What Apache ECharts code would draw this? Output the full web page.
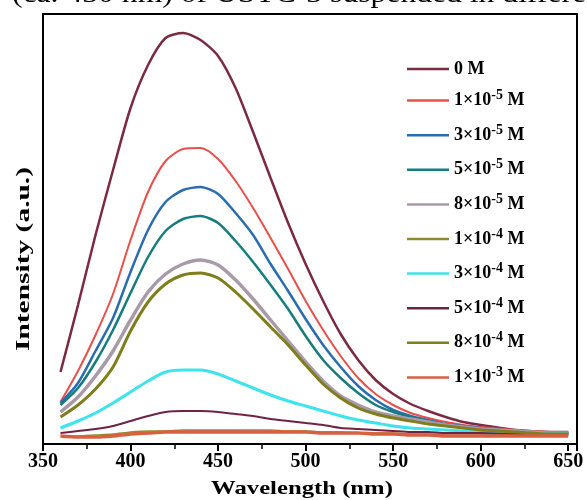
<!DOCTYPE html>
<html>
<head>
<meta charset="utf-8">
<script src="https://cdn.jsdelivr.net/npm/echarts@6/dist/echarts.min.js"></script>
<style>html,body{margin:0;padding:0;background:#fff}#c{width:587px;height:500px}</style>
</head>
<body>
<div id="c"></div>
<script>
const wavelengths = [360,370,380,390,400,410,420,430,440,450,460,470,480,490,500,510,520,530,540,550,560,570,580,590,600,620,640,650];
const seriesNames = ['0 M','1×10-5 M','3×10-5 M','5×10-5 M','8×10-5 M','1×10-4 M','3×10-4 M','5×10-4 M','8×10-4 M','1×10-3 M'];
const s0M   = [72,139,209,274,336,379,406,411,404,388,356,312,266,221,180,143,110,84,64,50,40,33,27,22,19,14,12,12];
const s1e5  = [42,73,109,150,204,252,283,295,296,285,263,236,206,175,143,114,88,66,50,39,31,26,22,19,17,14,12,11];
const s3e5  = [41,61,93,126,172,214,242,254,257,250,231,209,180,153,125,99,77,58,44,34,28,24,20,18,16,13,11,11];
const s5e5  = [39,56,82,114,151,187,213,225,228,221,203,182,159,135,108,84,66,51,39,32,27,23,19,17,15,13,11,11];
const s8e5  = [32,47,68,93,124,152,170,180,184,179,164,145,124,103,82,63,48,39,32,28,25,22,19,17,15,13,11,11];
const s1e4  = [8,8,9,10,12,13,13,14,14,14,14,14,14,13,13,12,12,11,11,11,10,10,10,10,10,9,9,9];
const s3e4  = [16,23,31,41,52,63,72,74,74,70,63,56,49,43,38,33,28,24,21,18,16,15,14,13,12,11,10,10];
const s5e4  = [11,13,15,18,23,28,32,33,33,32,30,28,25,23,21,19,16,15,14,13,12,12,11,11,11,10,10,10];
const s8e4  = [27,39,55,77,113,142,160,169,171,166,152,135,117,99,79,60,46,36,30,26,23,20,18,16,14,12,10,10];
const s1e3  = [8,7,7,8,10,11,12,12,12,12,12,12,12,12,12,11,11,11,10,10,9,9,8,8,8,8,8,8];
const xTicks = [350,400,450,500,550,600,650];

const allVals = [s0M,s1e5,s3e5,s5e5,s8e5,s1e4,s3e4,s5e4,s8e4,s1e3];
const colors = ['#7b2a42','#e8504c','#2b6cb0','#177d7c','#a99aaa','#8e8a32','#3fe3ec','#6d2444','#7f7d1c','#d9603f'];
const widths = [2.5,2,2.5,2.5,3.5,1.5,3,2,3,3.5];

const series = seriesNames.map((n,k)=>({
  name:n, type:'line', smooth:0.25, symbol:'none', showSymbol:false,
  lineStyle:{color:colors[k], width:widths[k]},
  itemStyle:{color:colors[k]},
  data: wavelengths.map((w,i)=>[w, allVals[k][i]])
}));

function legendFmt(name){
  const m = name.match(/^(\d)×10(-\d) M$/);
  if(!m) return '{a|'+name+'}';
  return '{a|'+m[1]+'×10}{s|'+m[2]+'}{a| M}';
}

const chart = echarts.init(document.getElementById('c'));
chart.setOption({
  backgroundColor:'#fff',
  animation:false,
  grid:{left:43, top:14, right:10, bottom:56, show:true, borderColor:'#000', borderWidth:2},
  xAxis:{
    type:'value', min:350, max:655, interval:50,
    axisLine:{show:true, lineStyle:{color:'#000', width:2}},
    axisTick:{show:true, inside:false, length:7, lineStyle:{color:'#000', width:2}},
    minorTick:{show:true, splitNumber:2, length:5, lineStyle:{color:'#000', width:1.5}},
    splitLine:{show:false},
    axisLabel:{color:'#000', fontFamily:'Liberation Serif', fontWeight:'bold', fontSize:20, margin:8,
      formatter:v=> xTicks.includes(v)? String(v): ''}
  },
  yAxis:{
    type:'value', min:0, max:430,
    axisLine:{show:true, lineStyle:{color:'#000', width:2}},
    axisTick:{show:false}, axisLabel:{show:false}, splitLine:{show:false}
  },
  legend:{
    orient:'vertical', left:407, top:60, padding:0, icon:'rect', itemWidth:42, itemHeight:2.5, itemGap:10.6,
    data: seriesNames,
    formatter: legendFmt,
    textStyle:{
      color:'#000',
      rich:{
        a:{fontFamily:'Liberation Serif', fontWeight:'bold', fontSize:18, lineHeight:20, color:'#000'},
        s:{fontFamily:'Liberation Serif', fontWeight:'bold', fontSize:14, lineHeight:20, padding:[0,0,10,0], color:'#000'}
      }
    }
  },
  graphic:[
    {type:'text', x:24, y:259, rotation:Math.PI/2, scaleX:1.55,
     style:{text:'Intensity (a.u.)', fill:'#000', font:'bold 19px "Liberation Serif"', align:'center', verticalAlign:'middle'}},
    {type:'text', x:302, y:489, scaleX:1.3,
     style:{text:'Wavelength (nm)', fill:'#000', font:'bold 19px "Liberation Serif"', align:'center', verticalAlign:'middle'}},
    {type:'text', x:12, y:9, scaleX:1.13,
     style:{text:'(ca. 430 nm) of USTC-3 suspended in different', fill:'#000', font:'28px "Liberation Serif"', align:'left', verticalAlign:'bottom'}}
  ],
  series: series
});
</script>
</body>
</html>
